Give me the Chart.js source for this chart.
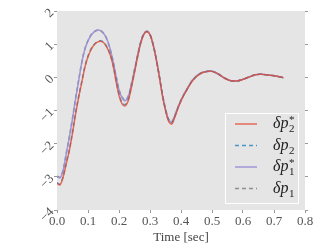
<!DOCTYPE html>
<html>
<head>
<meta charset="utf-8">
<script src="https://cdn.jsdelivr.net/npm/chart.js@4/dist/chart.umd.min.js"></script>
<style>
  html, body { margin: 0; padding: 0; background: #fff; }
  #wrap { width: 327px; height: 245px; }
</style>
</head>
<body>
<div id="wrap"><canvas id="chart"></canvas></div>
<script>
// time samples [sec]
const times = [0, 0.01, 0.02, 0.03, 0.04, 0.05, 0.06, 0.07, 0.08, 0.09,
  0.10, 0.11, 0.12, 0.13, 0.14, 0.15, 0.16, 0.17, 0.18, 0.19,
  0.20, 0.21, 0.22, 0.23, 0.24, 0.25, 0.26, 0.27, 0.28, 0.29,
  0.30, 0.31, 0.32, 0.33, 0.34, 0.35, 0.36, 0.37, 0.38, 0.39,
  0.40, 0.41, 0.42, 0.43, 0.44, 0.46, 0.48, 0.50, 0.52, 0.54,
  0.56, 0.58, 0.60, 0.62, 0.64, 0.66, 0.68, 0.70, 0.72, 0.73];

// series values
const dp2Star = [-3.2, -3.24, -3.0, -2.6, -2.2, -1.68, -1.1, -0.6, -0.15, 0.3,
  0.62, 0.84, 0.98, 1.06, 1.09, 1.05, 0.92, 0.72, 0.4, -0.1,
  -0.55, -0.8, -0.86, -0.7, -0.3, 0.15, 0.62, 1.03, 1.29, 1.38,
  1.28, 0.98, 0.55, 0.02, -0.55, -1.0, -1.32, -1.41, -1.2, -0.94,
  -0.71, -0.52, -0.36, -0.2, -0.07, 0.1, 0.17, 0.18, 0.1, -0.02,
  -0.1, -0.11, -0.06, 0.01, 0.08, 0.09, 0.07, 0.05, 0.01, -0.01];
const dp2 = [-3.18, -3.22, -2.98, -2.57, -2.17, -1.65, -1.07, -0.57, -0.12, 0.33,
  0.64, 0.86, 0.99, 1.07, 1.1, 1.06, 0.93, 0.73, 0.42, -0.06,
  -0.5, -0.76, -0.82, -0.67, -0.28, 0.17, 0.63, 1.04, 1.3, 1.38,
  1.29, 0.99, 0.56, 0.04, -0.52, -0.97, -1.29, -1.37, -1.18, -0.92,
  -0.7, -0.51, -0.35, -0.19, -0.06, 0.1, 0.17, 0.18, 0.1, -0.02,
  -0.1, -0.11, -0.06, 0.01, 0.08, 0.09, 0.07, 0.05, 0.01, -0.01];
const dp1Star = [-3.0, -3.03, -2.8, -2.3, -1.8, -1.25, -0.65, -0.1, 0.45, 0.85,
  1.1, 1.27, 1.37, 1.42, 1.41, 1.33, 1.17, 0.9, 0.52, 0.05,
  -0.38, -0.62, -0.71, -0.58, -0.22, 0.22, 0.66, 1.06, 1.31, 1.39,
  1.29, 0.99, 0.56, 0.04, -0.52, -0.96, -1.27, -1.35, -1.16, -0.91,
  -0.69, -0.51, -0.35, -0.19, -0.06, 0.11, 0.18, 0.19, 0.1, -0.02,
  -0.1, -0.11, -0.06, 0.01, 0.08, 0.09, 0.07, 0.05, 0.01, -0.01];
const dp1 = [-2.98, -3.01, -2.78, -2.28, -1.78, -1.23, -0.63, -0.08, 0.46, 0.86,
  1.11, 1.28, 1.38, 1.42, 1.41, 1.33, 1.17, 0.9, 0.53, 0.07,
  -0.36, -0.6, -0.69, -0.56, -0.2, 0.23, 0.67, 1.07, 1.31, 1.39,
  1.29, 0.99, 0.56, 0.05, -0.51, -0.95, -1.26, -1.34, -1.15, -0.9,
  -0.68, -0.5, -0.34, -0.18, -0.05, 0.11, 0.18, 0.19, 0.1, -0.02,
  -0.1, -0.11, -0.06, 0.01, 0.08, 0.09, 0.07, 0.05, 0.01, -0.01];

const xTicks = [0, 0.1, 0.2, 0.3, 0.4, 0.5, 0.6, 0.7, 0.8];
const yTicks = [-4, -3, -2, -1, 0, 1, 2];

// legend entries: base, subscript, superscript
const legendNames = [['δp', '2', '*'], ['δp', '2', ''], ['δp', '1', '*'], ['δp', '1', '']];

const pts = ys => times.map((t, i) => ({ x: t, y: ys[i] }));

const serif = "'Liberation Serif', 'DejaVu Serif', serif";

// grey plot panel
const panelBg = {
  id: 'panelBg',
  beforeDraw(chart) {
    const { ctx, chartArea: a } = chart;
    ctx.save();
    ctx.fillStyle = '#e5e5e5';
    ctx.fillRect(a.left, a.top, a.right - a.left, a.bottom - a.top);
    ctx.restore();
  }
};

// legend inside the lower right corner with sub/superscripts
const mathLegend = {
  id: 'mathLegend',
  afterDatasetsDraw(chart) {
    const ctx = chart.ctx;
    const a = chart.chartArea;
    const bx = a.right - 80, by = a.bottom - 97, bw = 73, bh = 90;
    ctx.save();
    ctx.fillStyle = '#e5e5e5';
    ctx.fillRect(bx, by, bw, bh);
    ctx.strokeStyle = '#ffffff';
    ctx.lineWidth = 1;
    ctx.strokeRect(bx + 0.5, by + 0.5, bw, bh);
    chart.data.datasets.forEach((ds, i) => {
      const y = by + 11 + i * 21.5;
      ctx.strokeStyle = ds.borderColor;
      ctx.lineWidth = ds.borderWidth;
      ctx.setLineDash(ds.borderDash || []);
      ctx.beginPath();
      ctx.moveTo(bx + 10, y);
      ctx.lineTo(bx + 32, y);
      ctx.stroke();
      ctx.setLineDash([]);
      const [base, sub, sup] = legendNames[i];
      let x = bx + 48;
      ctx.fillStyle = '#222';
      ctx.textBaseline = 'alphabetic';
      ctx.font = 'italic 16px ' + serif;
      ctx.fillText(base, x, y + 4);
      x += ctx.measureText(base).width + 0.5;
      ctx.font = '11px ' + serif;
      ctx.fillText(sub, x, y + 8);
      if (sup) ctx.fillText(sup, x, y - 1);
    });
    ctx.restore();
  }
};

new Chart(document.getElementById('chart'), {
  type: 'line',
  data: {
    datasets: [
      { label: 'δp2*', data: pts(dp2Star), borderColor: 'rgba(226,74,51,0.8)', borderWidth: 1.5 },
      { label: 'δp2', data: pts(dp2), borderColor: 'rgba(52,138,189,0.85)', borderWidth: 1.5, borderDash: [4, 3] },
      { label: 'δp1*', data: pts(dp1Star), borderColor: 'rgba(152,142,213,0.9)', borderWidth: 1.5 },
      { label: 'δp1', data: pts(dp1), borderColor: 'rgba(119,119,119,0.8)', borderWidth: 1.5, borderDash: [4, 3] }
    ]
  },
  options: {
    responsive: true,
    maintainAspectRatio: false,
    animation: false,
    layout: { padding: { top: 11, right: 0, left: 0, bottom: 0 } },
    elements: { point: { radius: 0 }, line: { tension: 0.35 } },
    plugins: { legend: { display: false }, tooltip: { enabled: false } },
    scales: {
      x: {
        type: 'linear', min: 0, max: 0.8,
        afterBuildTicks: s => { s.ticks = xTicks.map(v => ({ value: v })); },
        grid: { drawOnChartArea: false, tickLength: 3, color: '#999' },
        border: { display: false },
        ticks: { color: '#555', font: { family: serif, size: 13 }, padding: 1, maxRotation: 0,
          callback: v => v.toFixed(1) },
        title: { display: true, text: 'Time [sec]', color: '#444', font: { family: serif, size: 13 }, padding: 0 },
        afterFit: s => { s.height = 35; }
      },
      y: {
        type: 'linear', min: -4, max: 2,
        afterBuildTicks: s => { s.ticks = yTicks.map(v => ({ value: v })); },
        grid: { drawOnChartArea: false, tickLength: 3, color: '#999' },
        border: { display: false },
        ticks: { color: '#555', font: { family: serif, size: 13 }, padding: 2,
          minRotation: 45, maxRotation: 45,
          callback: v => String(v).replace('-', '\u2212') },
        afterFit: s => { s.width = 57; }
      },
      y2: {
        type: 'linear', position: 'right', min: -4, max: 2,
        afterBuildTicks: s => { s.ticks = yTicks.map(v => ({ value: v })); },
        grid: { drawOnChartArea: false, tickLength: 3, color: '#999' },
        border: { display: false },
        ticks: { display: false },
        afterFit: s => { s.width = 22; }
      }
    }
  },
  plugins: [panelBg, mathLegend]
});
</script>
</body>
</html>
